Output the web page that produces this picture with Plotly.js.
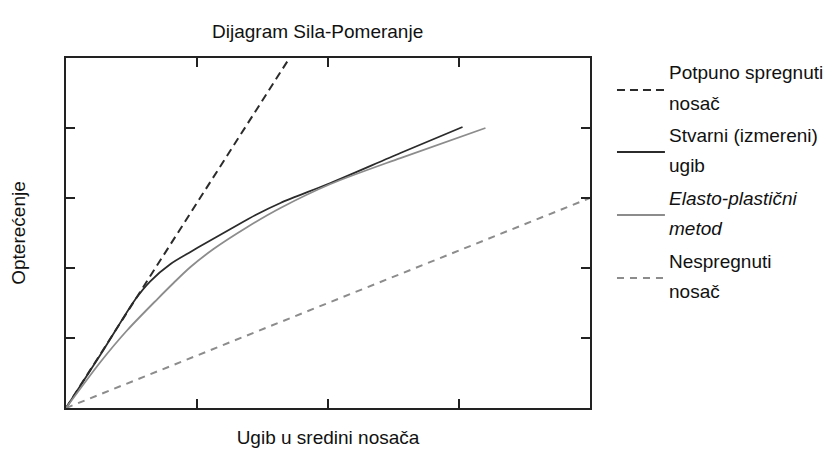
<!DOCTYPE html>
<html>
<head>
<meta charset="utf-8">
<script src="https://cdn.plot.ly/plotly-3.0.1.min.js"></script>
<style>html,body{margin:0;padding:0;background:#fff;}#chart{width:825px;height:461px;}</style>
</head>
<body>
<div id="chart"></div>
<script>
// Data (axis units: x = deflection, y = load; axes have no numeric labels)
const potpunoX = [0, 1.706];
const potpunoY = [0, 5.0];

const stvarniX = [0, 0.286, 0.531, 0.645, 0.798, 0.950, 1.027, 1.256, 1.447, 1.637, 2.019, 2.553, 3.027];
const stvarniY = [0, 0.829, 1.557, 1.814, 2.057, 2.229, 2.314, 2.557, 2.757, 2.929, 3.214, 3.643, 4.014];

const elastoX = [0, 0.263, 0.469, 0.698, 0.821, 0.950, 1.126, 1.385, 1.637, 2.019, 2.553, 3.202];
const elastoY = [0, 0.657, 1.114, 1.557, 1.786, 2.014, 2.271, 2.586, 2.857, 3.200, 3.571, 4.000];

const nespregnutiX = [0, 4.0];
const nespregnutiY = [0, 3.0];

const seriesNames = ["Potpuno spregnuti nosač", "Stvarni (izmereni) ugib", "Elasto-plastični metod", "Nespregnuti nosač"];
const legendLines = [
  ["Potpuno spregnuti", "nosač"],
  ["Stvarni (izmereni)", "ugib"],
  ["<i>Elasto-plastični</i>", "<i>metod</i>"],
  ["Nespregnuti", "nosač"]
];
const xTicks = [1, 2, 3];
const yTicks = [1, 2, 3, 4];

const FONT = '"Liberation Sans", Arial, sans-serif';
const dark = '#2b2b2b';
const gray = '#8c8c8c';

const styles = [
  {color: dark, width: 2, dash: '8px,5px'},
  {color: dark, width: 1.8, dash: 'solid'},
  {color: gray, width: 1.8, dash: 'solid'},
  {color: gray, width: 2, dash: '7px,6px'}
];
const xs = [potpunoX, stvarniX, elastoX, nespregnutiX];
const ys = [potpunoY, stvarniY, elastoY, nespregnutiY];

const traces = xs.map((x, i) => ({
  x: x, y: ys[i], type: 'scatter', mode: 'lines',
  name: seriesNames[i],
  line: Object.assign({shape: (i === 1 || i === 2) ? 'spline' : 'linear', smoothing: 0.8}, styles[i]),
  showlegend: false, hoverinfo: 'skip'
}));

// custom legend (line sample + two-line label)
const PLOT_H = 350;
const legendPx = [90, 152, 215, 278]; // vertical pixel offsets of legend samples from top of figure
const plotTop = 58;
const shapes = [];
const annotations = [];
legendPx.forEach((py, i) => {
  const ly = (plotTop + PLOT_H - py) / PLOT_H;
  shapes.push({type: 'line', xref: 'paper', yref: 'paper', x0: 1.0515, x1: 1.143, y0: ly, y1: ly,
    line: {color: styles[i].color, width: styles[i].width, dash: styles[i].dash}});
  annotations.push({xref: 'paper', yref: 'paper', x: 1.147, y: ly + 17 / PLOT_H, xanchor: 'left', yanchor: 'middle',
    align: 'left', showarrow: false, text: legendLines[i][0], font: {family: FONT, size: 19, color: '#111'}});
  annotations.push({xref: 'paper', yref: 'paper', x: 1.147, y: ly - 13 / PLOT_H, xanchor: 'left', yanchor: 'middle',
    align: 'left', showarrow: false, text: legendLines[i][1], font: {family: FONT, size: 19, color: '#111'}});
});

const axisCommon = {
  showgrid: false, zeroline: false, showline: true, linecolor: '#222', linewidth: 2,
  mirror: 'ticks', ticks: 'inside', ticklen: 9, tickwidth: 2, tickcolor: '#222',
  showticklabels: false, tickmode: 'array', fixedrange: true
};

const layout = {
  width: 825, height: 461,
  margin: {l: 66, r: 235, t: 58, b: 53},
  paper_bgcolor: '#fff', plot_bgcolor: '#fff',
  showlegend: false,
  title: {text: 'Dijagram Sila-Pomeranje', font: {family: FONT, size: 19, color: '#111'}, x: 0.385, xanchor: 'center', y: 0.932, yanchor: 'middle'},
  xaxis: Object.assign({}, axisCommon, {range: [0, 4], tickvals: xTicks,
    title: {text: 'Ugib u sredini nosača', font: {family: FONT, size: 19, color: '#111'}, standoff: 22}}),
  yaxis: Object.assign({}, axisCommon, {range: [0, 5], tickvals: yTicks,
    title: {text: 'Opterećenje', font: {family: FONT, size: 19, color: '#111'}, standoff: 33}}),
  shapes: shapes,
  annotations: annotations
};

Plotly.newPlot('chart', traces, layout, {displayModeBar: false, staticPlot: true});
</script>
</body>
</html>
